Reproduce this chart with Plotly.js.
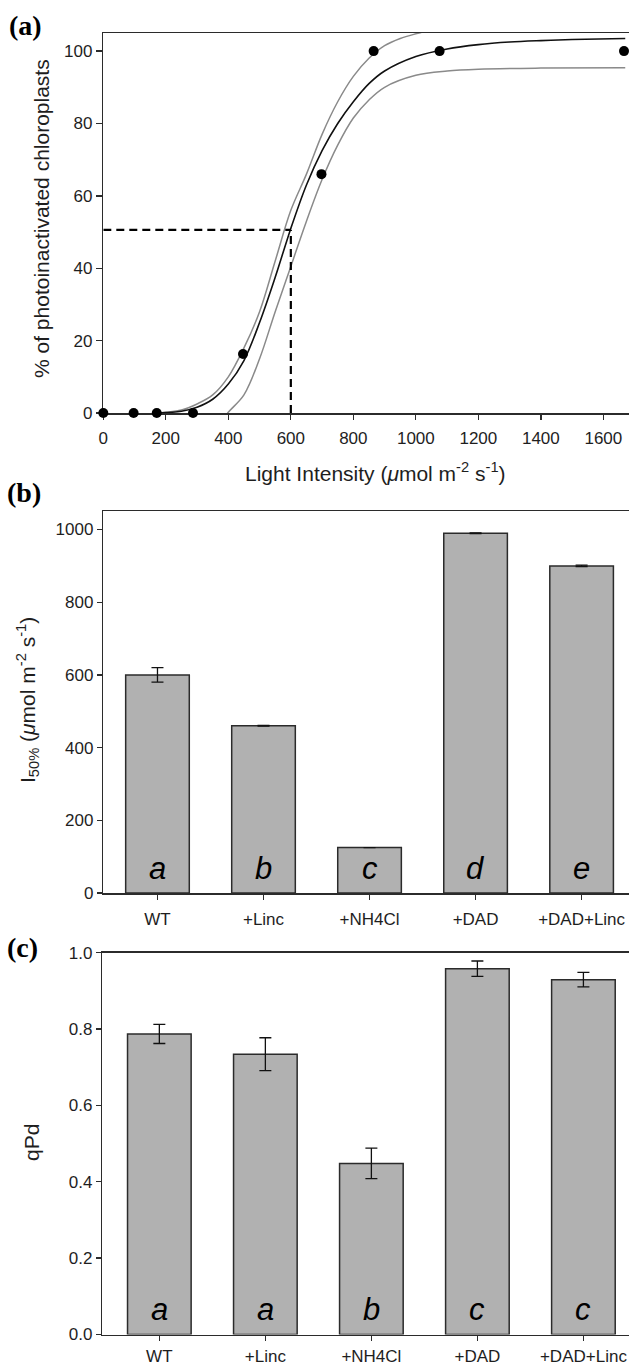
<!DOCTYPE html>
<html>
<head>
<meta charset="utf-8">
<script src="https://cdn.plot.ly/plotly-3.0.1.min.js"></script>
<style>
  html, body { margin: 0; padding: 0; background: #fff; }
  #fig { width: 629px; height: 1368px; }
</style>
</head>
<body>
<div id="fig"></div>
<script>
// ---- Panel (a): photoinactivation vs light intensity ----
const lightX = [0, 97, 171, 287, 447, 698, 865, 1076, 1666];
const pctInactivated = [0, 0, 0, 0, 16.3, 66, 100, 100, 100];

// fitted sigmoid (black) and its confidence band (grey)
const fitX = [170, 200, 250, 300, 350, 400, 450, 500, 550, 600, 650, 700, 750, 800, 850, 900, 1000, 1100, 1200, 1300, 1400, 1500, 1670];
const fitY = [0, 0.1, 0.5, 1.6, 3.8, 8, 14.5, 25, 37.5, 51, 63, 72.5, 80, 86, 91, 94.5, 98.5, 100.6, 101.8, 102.5, 102.9, 103.2, 103.5];
const upperX = [180, 250, 300, 350, 400, 450, 500, 550, 600, 650, 700, 750, 800, 850, 900, 950, 1010, 1100, 1200];
const upperY = [0, 0.8, 2.5, 5, 10, 18, 28, 42, 56, 66, 77, 86, 93, 98, 101.5, 103.5, 105, 107, 108.5];
const lowerX = [375, 398, 450, 500, 550, 600, 650, 700, 750, 800, 850, 900, 1000, 1100, 1200, 1400, 1670];
const lowerY = [-3, 0, 5, 15, 28, 40.5, 53, 64.5, 74, 81.5, 86.5, 90, 93.3, 94.5, 95, 95.3, 95.4];

// light intensity giving 50 % photoinactivation (dashed guide)
const i50Light = 600;
const i50Pct = 50.6;

// ---- Panels (b) and (c): treatments ----
const treatments = ['WT', '+Linc', '+NH4Cl', '+DAD', '+DAD+Linc'];
const i50Values = [600, 460, 125, 990, 900];
const i50Err = [20, 1, 0, 1, 2];
const i50Letters = ['a', 'b', 'c', 'd', 'e'];
const qPdValues = [0.787, 0.734, 0.448, 0.958, 0.929];
const qPdErr = [0.025, 0.043, 0.040, 0.020, 0.019];
const qPdLetters = ['a', 'a', 'b', 'c', 'c'];

// ---- page geometry (pixels) ----
const W = 629, H = 1368;
const px = v => v / W;
const py = v => 1 - v / H;
const yDom = (top, bottom) => [1 - bottom / H, 1 - top / H];

const FONT = 'Liberation Sans, Arial, Helvetica, sans-serif';
const INK = '#1e1e1e';
const LINE = '#2b2b2b';
const BAR_FILL = '#b1b1b1';
const GREY_CURVE = '#8a8a8a';

const axisCommon = {
  showline: true, linecolor: LINE, linewidth: 1.5,
  ticks: 'outside', ticklen: 5, tickwidth: 1.3, tickcolor: LINE,
  showgrid: false, zeroline: false, fixedrange: true,
  tickfont: { family: FONT, size: 17, color: INK }
};

const traces = [
  { x: lowerX, y: lowerY, xaxis: 'x', yaxis: 'y', mode: 'lines', line: { color: GREY_CURVE, width: 1.5, shape: 'spline' }, hoverinfo: 'skip' },
  { x: upperX, y: upperY, xaxis: 'x', yaxis: 'y', mode: 'lines', line: { color: GREY_CURVE, width: 1.5, shape: 'spline' }, hoverinfo: 'skip' },
  { x: fitX, y: fitY, xaxis: 'x', yaxis: 'y', mode: 'lines', line: { color: '#111', width: 1.6, shape: 'spline' }, hoverinfo: 'skip' },
  { x: lightX, y: pctInactivated, xaxis: 'x', yaxis: 'y', mode: 'markers', cliponaxis: false,
    marker: { color: '#000', size: 10 } },
  { type: 'bar', x: treatments, y: i50Values, xaxis: 'x2', yaxis: 'y2',
    marker: { color: BAR_FILL, line: { color: LINE, width: 1.5 } },
    error_y: { type: 'data', array: i50Err, visible: true, color: '#111', thickness: 1.3, width: 6 } },
  { type: 'bar', x: treatments, y: qPdValues, xaxis: 'x3', yaxis: 'y3',
    marker: { color: BAR_FILL, line: { color: LINE, width: 1.5 } },
    error_y: { type: 'data', array: qPdErr, visible: true, color: '#111', thickness: 1.3, width: 6 } }
];

const annotations = [];
function addText(text, x, y, opts) {
  annotations.push(Object.assign({
    text, x: px(x), y: py(y), xref: 'paper', yref: 'paper', showarrow: false,
    xanchor: 'center', yanchor: 'middle',
    font: { family: FONT, size: 21, color: INK }
  }, opts || {}));
}

// panel tags
const tagFont = { family: 'Liberation Serif, Times New Roman, serif', size: 28, color: '#000', weight: 'bold' };
addText('(a)', 7, 26, { xanchor: 'left', font: tagFont });
addText('(b)', 5, 492, { xanchor: 'left', font: tagFont });
addText('(c)', 5, 947, { xanchor: 'left', font: tagFont });

// axis titles
addText('% of photoinactivated chloroplasts', 41, 219, { textangle: -90 });
addText('Light Intensity (<i>\u03bc</i>mol m<sup>-2</sup> s<sup>-1</sup>)', 375, 472);
addText('I<sub>50%</sub> (<i>\u03bc</i>mol m<sup>-2</sup> s<sup>-1</sup>)', 27, 700, { textangle: -90 });
addText('qPd', 31, 1143, { textangle: -90 });

// significance letters inside the bars
const letterFont = { family: FONT, size: 31, color: '#000', style: 'italic' };
i50Letters.forEach((s, i) => annotations.push({
  text: s, x: treatments[i], y: 68, xref: 'x2', yref: 'y2',
  showarrow: false, font: letterFont
}));
qPdLetters.forEach((s, i) => annotations.push({
  text: s, x: treatments[i], y: 0.066, xref: 'x3', yref: 'y3',
  showarrow: false, font: letterFont
}));

const layout = {
  width: W, height: H,
  margin: { l: 0, r: 0, t: 0, b: 0 },
  paper_bgcolor: '#fff', plot_bgcolor: '#fff',
  showlegend: false,
  font: { family: FONT, size: 17, color: INK },
  bargap: 0.4,
  xaxis: Object.assign({}, axisCommon, {
    domain: [px(103.3), 1], range: [0, 1682], anchor: 'y', mirror: true,
    tickvals: [0, 200, 400, 600, 800, 1000, 1200, 1400, 1600], layer: 'below traces',
    ticklabelstandoff: 4
  }),
  yaxis: Object.assign({}, axisCommon, {
    domain: yDom(33, 413), range: [0, 105], anchor: 'x', ticklen: 6,
    tickvals: [0, 20, 40, 60, 80, 100], layer: 'below traces'
  }),
  xaxis2: Object.assign({}, axisCommon, {
    domain: [px(103.3), 1], range: [-0.511, 4.447], anchor: 'y2', mirror: true,
    type: 'category', ticklabelstandoff: 5
  }),
  yaxis2: Object.assign({}, axisCommon, {
    domain: yDom(511, 893), range: [0, 1051], anchor: 'x2',
    tickvals: [0, 200, 400, 600, 800, 1000]
  }),
  xaxis3: Object.assign({}, axisCommon, {
    domain: [px(102.3), 1], range: [-0.538, 4.43], anchor: 'y3', mirror: true,
    type: 'category', ticklabelstandoff: 1
  }),
  yaxis3: Object.assign({}, axisCommon, {
    domain: yDom(952.6, 1334.5), range: [0, 1], anchor: 'x3',
    tickvals: [0, 0.2, 0.4, 0.6, 0.8, 1.0], tickformat: '.1f'
  }),
  shapes: [
    { type: 'line', xref: 'x', yref: 'y', x0: 0, x1: i50Light, y0: i50Pct, y1: i50Pct,
      line: { color: '#000', width: 2.2, dash: '8px,5px' } },
    { type: 'line', xref: 'x', yref: 'y', x0: i50Light, x1: i50Light, y0: 0, y1: i50Pct,
      line: { color: '#000', width: 2.2, dash: '8px,5px' } }
  ],
  annotations
};

Plotly.newPlot('fig', traces, layout, { staticPlot: true, displayModeBar: false });
</script>
</body>
</html>
